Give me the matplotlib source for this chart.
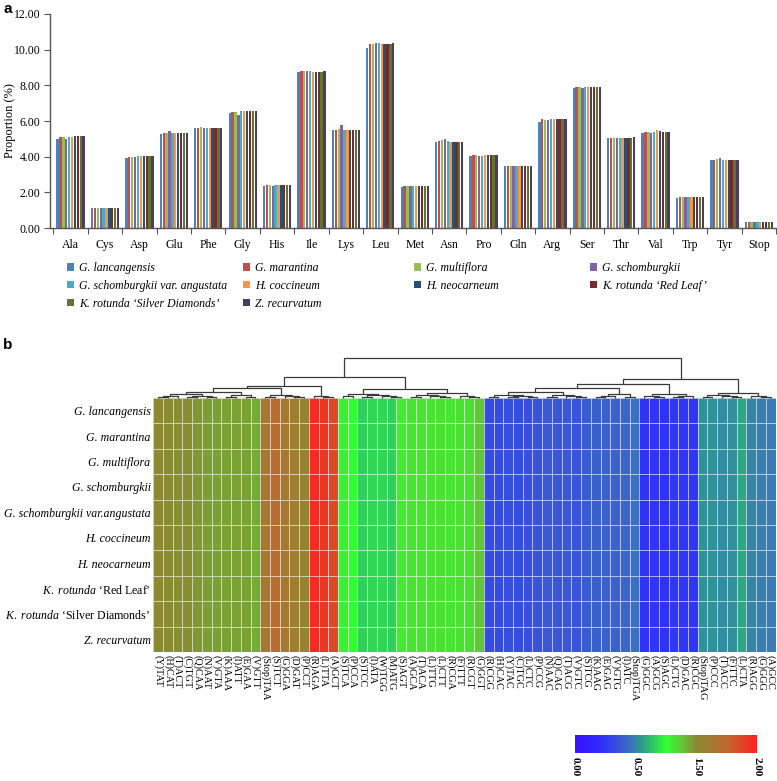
import matplotlib
matplotlib.use('Agg')
import numpy as np
import matplotlib.pyplot as plt
from matplotlib.colors import LinearSegmentedColormap, FuncNorm
from matplotlib.patches import Patch

plt.rcParams['font.family'] = ['Liberation Serif', 'DejaVu Serif']
plt.rcParams['mathtext.fontset'] = 'custom'
plt.rcParams['mathtext.it'] = 'Liberation Serif:italic'
plt.rcParams['mathtext.rm'] = 'Liberation Serif'

# ---------------- data: panel a ----------------
amino_acids = ['Ala', 'Cys', 'Asp', 'Glu', 'Phe', 'Gly', 'His', 'Ile', 'Lys', 'Leu', 'Met',
               'Asn', 'Pro', 'Gln', 'Arg', 'Ser', 'Thr', 'Val', 'Trp', 'Tyr', 'Stop']
species_legend = ['G. lancangensis', 'G. marantina', 'G. multiflora', 'G. schomburgkii',
                  'G. schomburgkii var. angustata', 'H. coccineum', 'H. neocarneum',
                  'K. rotunda ‘Red Leaf’', 'K. rotunda ‘Silver Diamonds’',
                  'Z. recurvatum']
species_colors = ['#4F81BD', '#C0504D', '#9BBB59', '#8064A2', '#4BACC6',
                  '#F79646', '#2C4D75', '#772C2A', '#5F7530', '#4D3B62']

ala = [5.00, 5.10, 5.10, 5.00, 5.12, 5.13, 5.14, 5.15, 5.15, 5.14]
cys = [1.12, 1.12, 1.12, 1.12, 1.12, 1.12, 1.12, 1.12, 1.12, 1.12]
asp = [3.95, 4.00, 3.97, 4.00, 4.01, 4.03, 4.03, 4.03, 4.03, 4.02]
glu = [5.27, 5.33, 5.32, 5.45, 5.30, 5.35, 5.35, 5.35, 5.35, 5.35]
phe = [5.58, 5.63, 5.66, 5.63, 5.63, 5.62, 5.62, 5.62, 5.62, 5.62]
gly = [6.45, 6.52, 6.52, 6.35, 6.55, 6.55, 6.55, 6.55, 6.55, 6.58]
his = [2.35, 2.40, 2.40, 2.36, 2.40, 2.40, 2.40, 2.40, 2.40, 2.40]
ile = [8.77, 8.82, 8.82, 8.82, 8.82, 8.77, 8.77, 8.77, 8.77, 8.78]
lys = [5.50, 5.50, 5.55, 5.78, 5.52, 5.50, 5.50, 5.47, 5.47, 5.50]
leu = [10.12, 10.32, 10.30, 10.35, 10.35, 10.30, 10.30, 10.33, 10.33, 10.35]
met = [2.32, 2.34, 2.33, 2.33, 2.34, 2.34, 2.34, 2.34, 2.33, 2.33]
asn = [4.81, 4.87, 4.92, 4.98, 4.87, 4.81, 4.83, 4.83, 4.83, 4.83]
pro = [4.01, 4.08, 4.08, 4.06, 4.06, 4.08, 4.08, 4.10, 4.10, 4.08]
gln = [3.45, 3.46, 3.45, 3.45, 3.45, 3.45, 3.45, 3.45, 3.45, 3.45]
arg = [5.96, 6.09, 6.05, 6.05, 6.09, 6.12, 6.14, 6.14, 6.14, 6.10]
ser = [7.83, 7.90, 7.88, 7.85, 7.88, 7.90, 7.90, 7.90, 7.90, 7.90]
thr = [5.06, 5.06, 5.06, 5.06, 5.06, 5.06, 5.06, 5.06, 5.06, 5.11]
val = [5.32, 5.39, 5.39, 5.32, 5.39, 5.47, 5.45, 5.39, 5.39, 5.39]
trp = [1.69, 1.72, 1.72, 1.72, 1.72, 1.73, 1.73, 1.72, 1.72, 1.72]
tyr = [3.80, 3.84, 3.86, 3.90, 3.84, 3.82, 3.82, 3.82, 3.84, 3.84]
stop = [0.34, 0.34, 0.34, 0.34, 0.34, 0.34, 0.34, 0.34, 0.34, 0.34]
aa_values = [ala, cys, asp, glu, phe, gly, his, ile, lys, leu, met,
             asn, pro, gln, arg, ser, thr, val, trp, tyr, stop]

# ---------------- data: panel b ----------------
row_labels = ['G. lancangensis', 'G. marantina', 'G. multiflora', 'G. schomburgkii',
              'G. schomburgkii var.angustata', 'H. coccineum', 'H. neocarneum',
              r'$\mathit{K.\ rotunda}$' + ' ‘Red Leaf’',
              r'$\mathit{K.\ rotunda}$' + ' ‘Silver Diamonds’', 'Z. recurvatum']
codons = ['(Y)TAT', '(H)CAT', '(T)ACT', '(C)TGT', '(Q)CAA', '(N)AAT', '(V)GTA', '(K)AAA', '(I)ATT',
          '(E)GAA', '(V)GTT', '(Stop)TAA', '(S)TCT', '(G)GGA', '(D)GAT', '(P)CCT', '(R)AGA', '(L)TTA',
          '(A)GCT', '(S)TCA', '(P)CCA', '(S)TCC', '(I)ATA', '(W)TGG', '(M)ATG', '(S)AGT', '(A)GCA',
          '(T)ACA', '(L)TTG', '(L)CTT', '(R)CGA', '(F)TTT', '(R)CGT', '(G)GGT', '(R)CGG', '(H)CAC',
          '(Y)TAC', '(C)TGC', '(L)CTC', '(P)CCG', '(N)AAC', '(Q)CAG', '(T)ACG', '(V)GTC', '(S)TCG',
          '(K)AAG', '(E)GAG', '(V)GTG', '(I)ATC', '(Stop)TGA', '(G)GGC', '(A)GCG', '(S)AGC', '(L)CTG',
          '(D)GAC', '(R)CGC', '(Stop)TAG', '(P)CCC', '(T)ACC', '(F)TTC', '(L)CTA', '(R)AGG', '(G)GGG',
          '(A)GCC']
rscu = [1.50, 1.50, 1.48, 1.47, 1.45, 1.42, 1.42, 1.40, 1.40, 1.40, 1.36,
        1.62, 1.72, 1.62, 1.58, 1.55,
        1.96, 1.92, 1.85,
        1.07, 1.00, 0.82, 0.84, 0.84, 0.82, 1.10, 1.12, 1.12, 1.12, 1.13, 1.12, 1.13, 1.15, 1.25,
        0.33, 0.33, 0.34, 0.33, 0.34, 0.36, 0.37, 0.37, 0.37, 0.36, 0.39, 0.40, 0.41, 0.41, 0.42, 0.45,
        0.22, 0.24, 0.22, 0.25, 0.25, 0.24,
        0.56, 0.56, 0.54, 0.55, 0.65, 0.50, 0.49, 0.48]

# dendrogram (height, left, right); leaves are codon column indices
olive_tree = (6, (4.5, (2, (1, 0, 1), 2), (2.5, (1, 3, 4), (1.5, 5, 6))), (3, (1, 7, 8), (1.2, 9, 10)))
brown_tree = (3, (1.5, 11, 12), (2, 13, (1, 14, 15)))
red_tree = (2, 16, (1, 17, 18))
green_tree = (9, (4, (2, 19, 20), (3, (1.5, 21, 22), (2, 23, (1, 24, 25)))),
              (5, (3, (1.5, 26, 27), (2, 28, (1, 29, 30))), (2.5, 31, (1.5, 32, 33))))
blue_tree = (10, (6, (3, (1.5, 34, 35), (2, (1, 36, 37), (1.2, 38, 39))),
                  (3.5, (1.5, 40, 41), (2, 42, (1, 43, 44)))),
             (4, (2, (1, 45, 46), 47), (1.5, 48, 49)))
bright_tree = (4, (2, 50, (1, 51, 52)), (2, (1, 53, 54), 55))
teal_tree = (5, (3, (1.5, 56, 57), (2, 58, (1, 59, 60))), (2.5, 61, (1.5, 62, 63)))
tree = (40, (21, (12, (10, olive_tree, brown_tree), red_tree), green_tree),
        (19, (14, blue_tree, bright_tree), teal_tree))

cbar_ticks = [0.0, 0.5, 1.5, 2.0]

# ---------------- figure ----------------
W, H = 777, 781
fig = plt.figure(figsize=(W / 100, H / 100), dpi=100)


def box(x0, y0, x1, y1):
    return [x0 / W, 1 - y1 / H, (x1 - x0) / W, (y1 - y0) / H]


axis_col = '#555555'

# ---- panel a: grouped bars ----
ax = fig.add_axes(box(50, 14, 776, 228))
n_sp = len(species_legend)
bw = 0.084
xc = np.arange(len(amino_acids))
handles = []
for j in range(n_sp):
    vals = [v[j] for v in aa_values]
    ax.bar(xc - bw * n_sp / 2 + bw * (j + 0.5), vals, width=bw * 0.8,
           color=species_colors[j], linewidth=0)
    handles.append(Patch(facecolor=species_colors[j], edgecolor='none'))
ax.set_xlim(-0.6, len(amino_acids) - 0.5)
ax.set_ylim(0, 12)
yt = np.arange(0, 12.1, 2)
ax.set_yticks(yt)
ax.set_yticklabels(['%.2f' % v for v in yt], fontsize=8.5)
ax.set_xticks(np.arange(len(amino_acids) + 1) - 0.5)
ax.set_xticklabels([])
ax.set_xticks(xc, minor=True)
ax.set_xticklabels(amino_acids, minor=True, fontsize=8.5)
ax.tick_params(axis='x', which='major', length=4, color=axis_col, direction='out')
ax.tick_params(axis='x', which='minor', length=0, pad=8)
ax.tick_params(axis='y', length=4, color=axis_col, direction='out', pad=3)
for s in ['top', 'right']:
    ax.spines[s].set_visible(False)
for s in ['left', 'bottom']:
    ax.spines[s].set_color(axis_col)
    ax.spines[s].set_linewidth(1.0)
fig.text(10 / W, 1 - 121 / H, 'Proportion (%)', rotation=90, fontsize=9,
         ha='center', va='center')

# legend: filled row-wise in 4 columns
col_x = [67, 243, 414, 590]
for c in range(4):
    idx = list(range(c, n_sp, 4))
    fig.legend([handles[i] for i in idx], [species_legend[i] for i in idx],
               loc='upper left', bbox_to_anchor=(col_x[c] / W, 1 - 262 / H),
               frameon=False, handlelength=0.6, handleheight=0.6, handletextpad=0.45,
               labelspacing=0.5, borderpad=0, borderaxespad=0,
               prop={'family': 'Liberation Serif', 'style': 'italic', 'size': 8.5})

fig.text(3 / W, 1 - 9 / H, 'a', fontfamily='Liberation Sans', fontweight='bold',
         fontsize=11, va='center', ha='left')
fig.text(3 / W, 1 - 345 / H, 'b', fontfamily='Liberation Sans', fontweight='bold',
         fontsize=11, va='center', ha='left')

# ---- panel b: heatmap ----
vpts = [0.0, 0.5, 1.5, 2.0]
ppts = [0.0, 1 / 3, 2 / 3, 1.0]
norm = FuncNorm((lambda v: np.interp(v, vpts, ppts), lambda p: np.interp(p, ppts, vpts)),
                vmin=0, vmax=2)
cmap = LinearSegmentedColormap.from_list('rscu', [
    (0.0, '#3a10ff'), (0.10, '#3025ff'), (0.167, '#3038f5'), (0.25, '#3a58d5'),
    (0.313, '#3a78b8'), (0.367, '#2e9a8e'), (0.5, '#30ff30'), (0.583, '#60c835'),
    (0.667, '#8a8a32'), (0.833, '#c0682e'), (1.0, '#ff2020')])

data = np.tile(np.array(rscu), (len(row_labels), 1))
hm = fig.add_axes(box(153.3, 398, 775.5, 652))
mesh = hm.pcolormesh(np.arange(len(codons) + 1), np.arange(len(row_labels) + 1), data,
                     cmap=cmap, norm=norm, edgecolors=(1, 1, 1, 0.6), linewidth=0.6)
hm.set_xlim(0, len(codons))
hm.set_ylim(len(row_labels), 0)
hm.set_yticks(np.arange(len(row_labels)) + 0.5)
hm.set_yticklabels(row_labels, fontsize=8.6)
for t in hm.get_yticklabels():
    if '$' not in t.get_text():
        t.set_fontstyle('italic')
hm.set_xticks(np.arange(len(codons)) + 0.5)
hm.set_xticklabels(codons, rotation=-90, fontsize=7.3)
hm.tick_params(length=0, pad=2)
for s in hm.spines.values():
    s.set_visible(False)

# ---- dendrogram ----
dn = fig.add_axes(box(153.3, 352, 775.5, 398))
dn.set_xlim(0, len(codons))
dn.set_ylim(0, 46)
dn.axis('off')


def draw(node):
    if isinstance(node, int):
        return node + 0.5, 0.0
    h, left, right = node
    xl, hl = draw(left)
    xr, hr = draw(right)
    dn.plot([xl, xl, xr, xr], [hl, h, h, hr], color='#3a3a3a', lw=0.9,
            solid_capstyle='butt', clip_on=False)
    return (xl + xr) / 2, h


draw(tree)

# ---- colorbar ----
cax = fig.add_axes(box(575, 735, 757, 753))
cb = fig.colorbar(mesh, cax=cax, orientation='horizontal', ticks=cbar_ticks)
cb.outline.set_visible(False)
cb.ax.set_xticklabels(['%.2f' % t for t in cbar_ticks], rotation=-90,
                      fontweight='bold', fontsize=8)
cax.tick_params(length=0, pad=3)

fig.savefig('out.png', dpi=100)
